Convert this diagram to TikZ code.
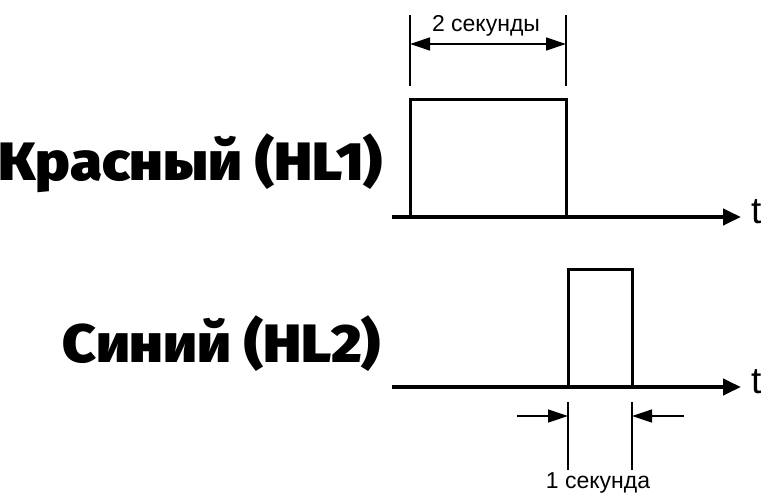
\documentclass[tikz,border=0pt]{standalone}
\usepackage{fontspec}
\setmainfont{Liberation Sans}
\newfontfamily\heavy{Fira Sans Black}
\usetikzlibrary{arrows.meta}
\begin{document}
\begin{tikzpicture}[x=1pt,y=-1pt,
  axis/.style={line width=4pt,-{Triangle[length=18pt,width=16pt]}},
  pulse/.style={line width=3pt,line join=miter},
  dim/.style={line width=1.3pt},
  dimarrow/.style={line width=1.3pt,-{Triangle[length=20pt,width=13pt]}},
  big/.style={font=\heavy\fontsize{54}{60}\selectfont,anchor=base east,inner sep=0pt},
  small/.style={font=\fontsize{23}{27}\selectfont,inner sep=0pt,anchor=base},
  tlab/.style={font=\fontsize{37}{42}\selectfont,anchor=base west,inner sep=0pt}]
\useasboundingbox (0,0) rectangle (763,495);
% top axis
\coordinate (a1s) at (392,217);
\coordinate (a1e) at (741,217);
\draw[axis] (a1s) -- (a1e);
\node[tlab] (t1) at (751,223) {t};
% top pulse
\coordinate (p1a) at (410,217);
\coordinate (p1b) at (410,99);
\coordinate (p1c) at (566,99);
\coordinate (p1d) at (566,217);
\draw[pulse] (p1a) -- (p1b) -- (p1c) -- (p1d);
% top dimension
\coordinate (d1a) at (410,15);
\coordinate (d1b) at (410,86);
\coordinate (d2a) at (566,15);
\coordinate (d2b) at (566,86);
\draw[dim] (d1a) -- (d1b);
\draw[dim] (d2a) -- (d2b);
\coordinate (m1) at (410,44);
\coordinate (m2) at (566,44);
\draw[dim,{Triangle[length=20pt,width=13pt]}-{Triangle[length=20pt,width=13pt]}] (m1) -- (m2);
\node[small] (l1) at (486,32) {2 секунды};
% labels
\node[big] (red) at (383,180) {\scalebox{1.075}[1]{Красный (HL1)}};
\node[big] (blue) at (381,362) {\scalebox{1.075}[1]{Синий (HL2)}};
% bottom axis
\coordinate (a2s) at (392,387);
\coordinate (a2e) at (741,387);
\draw[axis] (a2s) -- (a2e);
\node[tlab] (t2) at (751,393) {t};
% bottom pulse
\coordinate (p2a) at (568,387);
\coordinate (p2b) at (568,269);
\coordinate (p2c) at (632,269);
\coordinate (p2d) at (632,387);
\draw[pulse] (p2a) -- (p2b) -- (p2c) -- (p2d);
% bottom dimension
\coordinate (e1a) at (568,402);
\coordinate (e1b) at (568,470);
\coordinate (e2a) at (632,402);
\coordinate (e2b) at (632,470);
\draw[dim] (e1a) -- (e1b);
\draw[dim] (e2a) -- (e2b);
\coordinate (f1) at (517,416);
\coordinate (f2) at (684,416);
\draw[dimarrow] (f1) -- (e1a |- f1);
\draw[dimarrow] (f2) -- (e2a |- f2);
\node[small] (l2) at (598,488) {1 секунда};
\end{tikzpicture}
\end{document}
